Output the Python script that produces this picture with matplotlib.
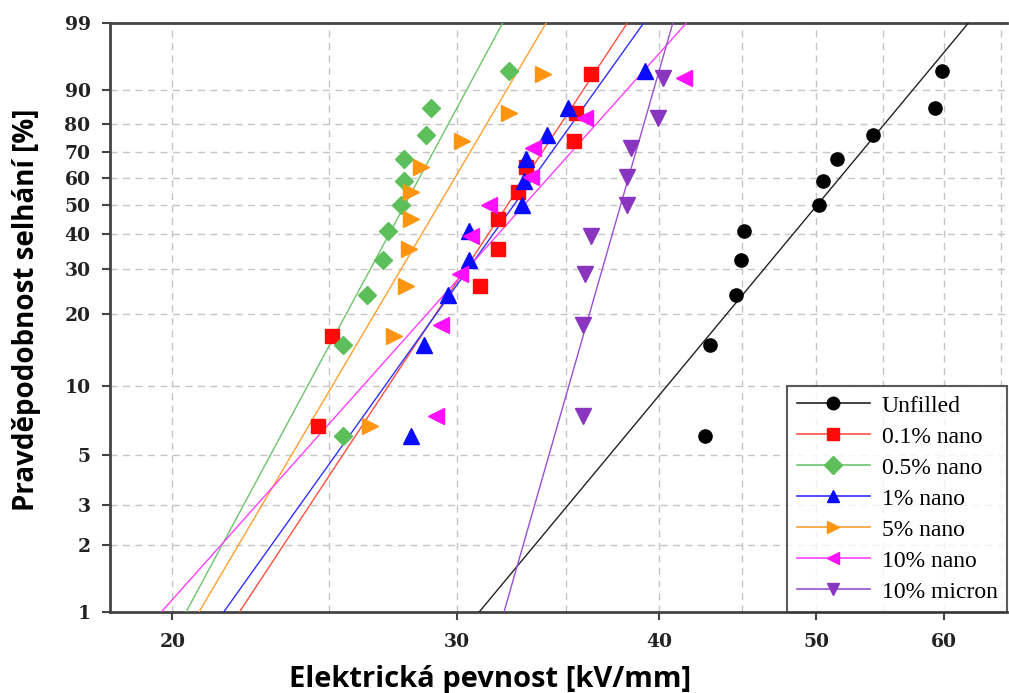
import numpy as np
import matplotlib
matplotlib.use("Agg")
import matplotlib.pyplot as plt
from matplotlib.ticker import FixedLocator, NullFormatter, FixedFormatter
from matplotlib.lines import Line2D

# ---------------- data ----------------
labels = ["Unfilled", "0.1% nano", "0.5% nano", "1% nano", "5% nano", "10% nano", "10% micron"]

# failure probabilities [%] (median ranks)
p_n11 = [6.1, 14.9, 23.7, 32.5, 41.2, 50.0, 58.8, 67.5, 76.3, 85.1, 93.9]
p_n10 = [6.7, 16.3, 25.9, 35.6, 45.2, 54.8, 64.4, 74.0, 83.7, 93.3]
p_n9 = [7.4, 18.1, 28.7, 39.4, 50.0, 60.6, 71.3, 81.9, 92.6]

x_unfilled = [42.7, 43.0, 44.6, 44.9, 45.1, 50.2, 50.5, 51.5, 54.2, 59.2, 59.8]
x_nano01 = [24.6, 25.1, 31.0, 31.8, 31.8, 32.7, 33.1, 35.4, 35.5, 36.3]
x_nano05 = [25.5, 25.5, 26.4, 27.0, 27.2, 27.7, 27.8, 27.8, 28.7, 28.9, 32.3]
x_nano1 = [28.1, 28.6, 29.6, 30.5, 30.5, 32.9, 33.0, 33.1, 34.1, 35.1, 39.2]
x_nano5 = [26.5, 27.4, 27.9, 28.0, 28.1, 28.1, 28.5, 30.2, 32.3, 33.9]
x_nano10 = [29.1, 29.3, 30.1, 30.6, 31.4, 33.3, 33.4, 36.0, 41.4]
x_micron10 = [35.9, 35.9, 36.0, 36.3, 38.2, 38.2, 38.4, 39.9, 40.2]

# Weibull fit parameters (scale alpha [kV/mm], shape beta)
fit_alpha = [52.2, 33.3, 28.6, 33.7, 30.1, 34.5, 38.4]
fit_beta = [8.8, 11.1, 13.6, 10.25, 12.4, 8.2, 25.5]

x_ticks = [20, 30, 40, 50, 60]
x_minor = [25, 35, 45, 55, 65]
y_ticks = [1, 2, 3, 5, 10, 20, 30, 40, 50, 60, 70, 80, 90, 99]

# ---------------- style ----------------
xs_list = [x_unfilled, x_nano01, x_nano05, x_nano1, x_nano5, x_nano10, x_micron10]
ps_list = [p_n11, p_n10, p_n11, p_n11, p_n10, p_n9, p_n9]
mcolors = ["#000000", "#ff0a0a", "#5cbf5c", "#0a0aff", "#ff9510", "#ff10ff", "#8a35c0"]
lcolors = ["#222222", "#ff5040", "#6cc46c", "#3030ff", "#ffa030", "#ff40ff", "#9a50d0"]
markers = ["o", "s", "D", "^", ">", "<", "v"]
msizes = [9.5, 10, 9, 11, 11, 11, 11]


def fwd(p):
    p = np.clip(np.asarray(p, dtype=float) / 100.0, 1e-9, 1 - 1e-9)
    return np.log(-np.log(1 - p))


def inv(w):
    return 100.0 * (1 - np.exp(-np.exp(np.asarray(w, dtype=float))))


fig = plt.figure(figsize=(10.09, 6.93), dpi=100)
ax = fig.add_axes([110 / 1009, 1 - 612 / 693, (1007 - 110) / 1009, (612 - 23) / 693])

ax.set_xscale("log")
ax.set_yscale("function", functions=(fwd, inv))
ax.set_xlim(18.3, 65.6)
ax.set_ylim(1, 99)

xx = np.geomspace(17, 70, 400)
handles = []
for i in range(len(labels)):
    pp = 100.0 * (1 - np.exp(-(xx / fit_alpha[i]) ** fit_beta[i]))
    pp = np.clip(pp, 0.5, 99.7)
    ax.plot(xx, pp, color=lcolors[i], lw=1.0, zorder=3)
    ax.plot(xs_list[i], ps_list[i], linestyle="none", marker=markers[i],
            ms=msizes[i], color=mcolors[i], mec=mcolors[i], zorder=4)
    handles.append(Line2D([0], [0], color=lcolors[i], lw=1.2, marker=markers[i],
                          ms=9, mfc=mcolors[i], mec=mcolors[i]))

# ticks
ax.xaxis.set_major_locator(FixedLocator(x_ticks))
ax.xaxis.set_major_formatter(FixedFormatter([str(t) for t in x_ticks]))
ax.xaxis.set_minor_locator(FixedLocator(x_minor))
ax.xaxis.set_minor_formatter(NullFormatter())
ax.yaxis.set_major_locator(FixedLocator(y_ticks))
ax.yaxis.set_major_formatter(FixedFormatter([str(t) for t in y_ticks]))
ax.yaxis.set_minor_locator(FixedLocator([]))

ax.tick_params(axis="both", which="major", direction="out", length=6, width=1.5,
               color="#444444", labelsize=13.5)
ax.tick_params(axis="x", which="minor", length=0)
for lab in ax.get_xticklabels() + ax.get_yticklabels():
    lab.set_family("DejaVu Serif")
    lab.set_fontweight("bold")
    lab.set_color("#222222")
ax.tick_params(axis="x", pad=9)
ax.tick_params(axis="y", pad=8)

ax.grid(True, which="both", axis="x", color="#c4c4c4", ls=(0, (5, 4)), lw=1.0)
ax.grid(True, which="major", axis="y", color="#c4c4c4", ls=(0, (5, 4)), lw=1.0)
ax.set_axisbelow(True)

for s in ["left", "bottom", "top"]:
    ax.spines[s].set_linewidth(2.0)
    ax.spines[s].set_color("#444444")
ax.spines["right"].set_visible(False)

ax.set_xlabel("Elektrická pevnost [kV/mm]", family="Open Sans", fontweight="bold",
              fontsize=21)
ax.set_ylabel("Pravděpodobnost selhání [%]", family="Open Sans", fontweight="bold",
              fontsize=20)
# label centres in figure pixels: x-label ~ (490, 678), y-label ~ (27, 310)
ax.xaxis.set_label_coords((490 - 110) / 897, -(679 - 612) / 589, transform=ax.transAxes)
ax.xaxis.label.set_va("center")
ax.yaxis.set_label_coords(-(110 - 27) / 897, (612 - 310) / 589, transform=ax.transAxes)
ax.yaxis.label.set_va("center")

leg = ax.legend(handles, labels, loc="lower right", bbox_to_anchor=(1.0, 0.0),
                prop={"family": "Liberation Serif", "size": 17},
                frameon=True, fancybox=False, edgecolor="#333333",
                borderaxespad=0.0, handlelength=3.1, handletextpad=0.5,
                labelspacing=0.4, borderpad=0.4)
leg.get_frame().set_linewidth(1.5)
leg.set_zorder(10)

fig.savefig("out.png", dpi=100)
